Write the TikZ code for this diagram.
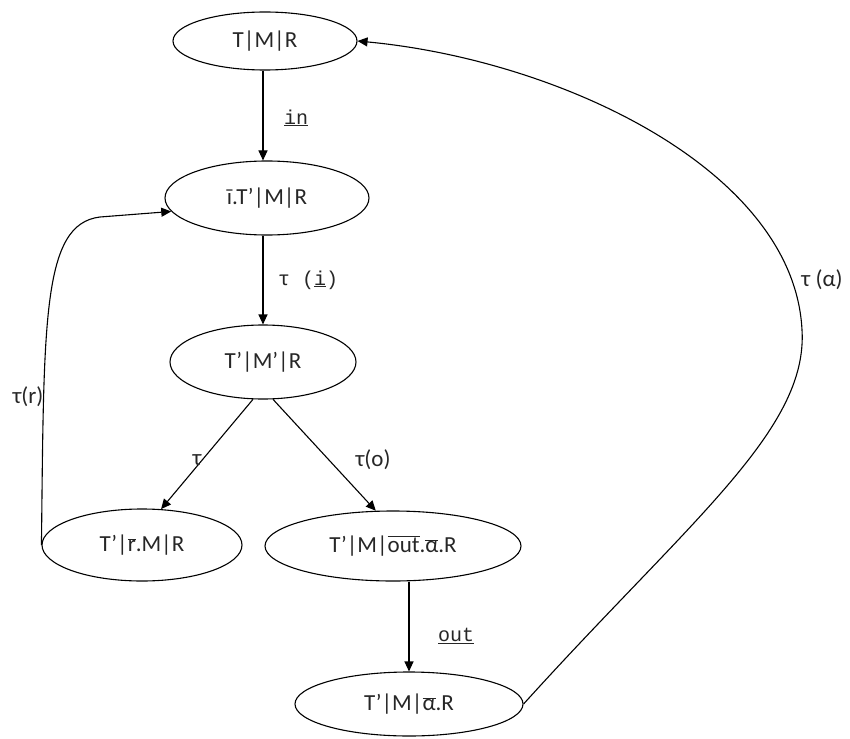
\documentclass[tikz,border=0pt]{standalone}
\usepackage{fontspec}
\setmainfont{Carlito}
\setmonofont{Liberation Mono}
\usetikzlibrary{arrows.meta,shapes.geometric}
\newcommand\ovl[1]{$\overline{\mbox{#1}}$}
\newcommand\uln[1]{\underline{#1}}
\tikzset{
  state/.style={draw, ellipse, line width=1.1pt, inner sep=0pt,
    font=\fontsize{23}{26}\selectfont, text=black!85},
  trans/.style={draw, line width=1.1pt, -{Triangle[length=10pt,width=9pt]}},
  lbl/.style={font=\fontsize{23}{26}\selectfont, inner sep=1pt, text=black!85},
  mlbl/.style={font=\fontsize{20}{24}\ttfamily, inner sep=1pt, text=black!85}
}
\begin{document}
\begin{tikzpicture}[x=1pt,y=-1pt]
  \useasboundingbox (0,0) rectangle (850,738);
  % states
  \node[state, minimum width=184pt, minimum height=58pt] (s1) at (265,41) {T|M|R};
  \node[state, minimum width=204pt, minimum height=74pt] (s2) at (267,198) {\={\i}.T’|M|R};
  \node[state, minimum width=186pt, minimum height=74pt] (s3) at (263,362) {T’|M’|R};
  \node[state, minimum width=200pt, minimum height=72pt] (s4) at (142,545) {T’|\ovl{r}.M|R};
  \node[state, minimum width=256pt, minimum height=70pt] (s5) at (393,546) {T’|M|\ovl{out}.\ovl{α}.R};
  \node[state, minimum width=228pt, minimum height=64pt] (s6) at (409,704) {T’|M|\ovl{α}.R};

  % transitions
  \draw[trans] (s1.south -| s3.north) -- (s2.north -| s3.north);
  \node[mlbl] (lin) at (296,118) {\uln{in}};
  \draw[trans] (s2.south -| s3.north) -- (s3.north);
  \node[mlbl] (li) at (308,280) {τ (\uln{i})};
  \draw[trans] (s3.-105) -- (s4.62);
  \node[lbl] (lt) at (197,460) {τ};
  \draw[trans] (s3.-75) -- (s5.116);
  \node[lbl] (lto) at (373,460) {τ(o)};
  \draw[trans] (s5.south -| s6.north) -- (s6.north);
  \node[mlbl] (lout) at (456,636) {\uln{out}};

  % return to the second state
  \draw[trans] (s4.west) .. controls (44,320) and (42,224) .. (100,217) -- (s2.188);
  \node[lbl] (lr) at (28,397) {τ(r)};

  % return to the initial state
  \draw[trans] (s6.east) .. controls (690,520) and (808,430) .. (802,330)
    .. controls (794,170) and (560,60) .. (s1.east);
  \node[lbl] (la) at (822,280) {τ (α)};
\end{tikzpicture}
\end{document}
